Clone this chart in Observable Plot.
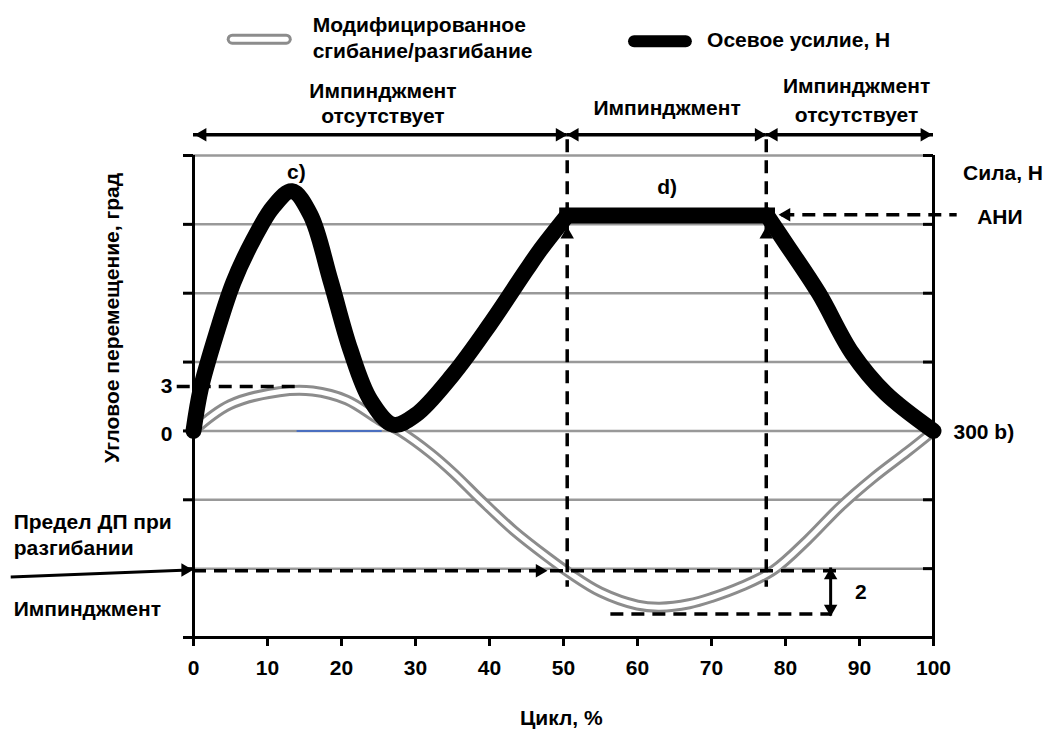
<!DOCTYPE html>
<html><head><meta charset="utf-8">
<script src="https://cdn.jsdelivr.net/npm/d3@7"></script>
<script src="https://cdn.jsdelivr.net/npm/@observablehq/plot@0.6"></script>
<style>html,body{margin:0;padding:0;background:#fff;} svg{display:block}</style>
</head><body><div id="chart"></div>
<script>
// ---- data ----
const cycleTicks = [0, 10, 20, 30, 40, 50, 60, 70, 80, 90, 100];
const axisLevels = [-3, -2, -1, 0, 1, 2, 3, 4];
const gridLevels = [-2, -1, 0, 1, 2, 3, 4];
// modified flexion/extension (grid units, 0 = neutral)
const flexCycle = [0, 4.9, 11.6, 16.1, 20.7, 25.1, 28, 32, 35.1, 38.8, 43.2, 47.8, 50.9, 55, 60, 63, 67, 70, 74, 78.4, 83, 87.4, 91.9, 96.5, 100];
const flexAngle = [0, 0.38, 0.57, 0.58, 0.45, 0.16, -0.01, -0.32, -0.61, -1.0, -1.44, -1.83, -2.07, -2.34, -2.53, -2.56, -2.51, -2.42, -2.26, -2.02, -1.58, -1.10, -0.68, -0.30, 0];
// axial force
const forceCycle = [0, 1.0, 3.2, 5.4, 8.1, 10.8, 13.3, 15.8, 18.5, 21.2, 23.9, 27, 30, 35, 40, 45, 47, 50.5, 77.5, 80, 84.5, 89, 93.5, 100];
const forceValue = [0, 0.62, 1.45, 2.16, 2.78, 3.26, 3.48, 3.14, 2.19, 1.18, 0.45, 0.09, 0.23, 0.81, 1.54, 2.34, 2.65, 3.13, 3.13, 2.73, 2.0, 1.13, 0.55, 0];
const plateauStart = 50.5, plateauEnd = 77.5;
const phaseBounds = [0, 50.5, 77.4, 100];
const angle3Level = 0.645;   // level of "3" degrees
const impLevel = -2.03;      // extension limit
const impLow = -2.66;        // bottom of the "2" band
const aniLevel = 3.14;

const flex = flexCycle.map((x, i) => ({x, y: flexAngle[i]}));
const force = forceCycle.map((x, i) => ({x, y: forceValue[i]}));
const forceRise = force.filter(d => d.x <= plateauStart);
const forcePlateau = force.filter(d => d.x >= plateauStart && d.x <= plateauEnd);
const forceFall = force.filter(d => d.x >= plateauEnd);
const phases = phaseBounds.slice(1).map((b, i) => ({x1: phaseBounds[i], x2: b}));

// ---- annotations ----
const topY = 4.3;
const dash = "13,8";
const headsRight = [{x: 50.5, y: topY}, {x: 77.4, y: topY}, {x: 99.8, y: topY}, {x: 47.8, y: impLevel}, {x: -0.1, y: -2.02}];
const headsLeft = [{x: 0.2, y: topY}, {x: 50.5, y: topY}, {x: 77.4, y: topY}, {x: 79.1, y: aniLevel}];
const headsUp = [{x: 50.5, y: 2.96}, {x: 77.4, y: 2.96}, {x: 86.1, y: -1.99}];
const headsDown = [{x: 86.1, y: -2.69}];

const textStart = [
  {t: "Модифицированное", x: 16.1, y: 5.89},
  {t: "сгибание/разгибание", x: 16.1, y: 5.51},
  {t: "Осевое усилие, Н", x: 69.4, y: 5.67},
  {t: "Сила, Н", x: 104.0, y: 3.74},
  {t: "АНИ", x: 105.9, y: 3.11},
  {t: "300 b)", x: 102.7, y: -0.02},
  {t: "Предел ДП при", x: -24.3, y: -1.32},
  {t: "разгибании", x: -24.3, y: -1.71},
  {t: "Импинджмент", x: -24.3, y: -2.59},
  {t: "2", x: 89.4, y: -2.34}
];
const textMiddle = [
  {t: "Импинджмент", x: 25.6, y: 4.94},
  {t: "отсутствует", x: 25.6, y: 4.57},
  {t: "Импинджмент", x: 64.0, y: 4.68},
  {t: "Импинджмент", x: 89.6, y: 5.0},
  {t: "отсутствует", x: 89.6, y: 4.59},
  {t: "c)", x: 13.9, y: 3.75},
  {t: "d)", x: 64.0, y: 3.54},
  {t: "Цикл, %", x: 49.7, y: -4.17}
];

const forceStyle = {x: "x", y: "y", stroke: "#000", strokeWidth: 16, strokeLinejoin: "round"};

const chart = Plot.plot({
  width: 1053, height: 740,
  marginLeft: 193, marginRight: 120, marginTop: 155, marginBottom: 103,
  x: {domain: [0, 100]},
  y: {domain: [-3, 4]},
  style: {fontFamily: "Liberation Sans, Arial, sans-serif", fontSize: "21px", fontWeight: "bold", background: "#fff", color: "#000", overflow: "visible"},
  marks: [
    // grid
    Plot.ruleY(gridLevels, {x1: 0, x2: 100, stroke: "#999", strokeWidth: 2.5}),
    Plot.ruleY([0], {x1: 14, x2: 25.5, stroke: "#4a6fc0", strokeWidth: 2}),
    // flexion curve (double line)
    Plot.line(flex, {x: "x", y: "y", stroke: "#8c8c8c", strokeWidth: 11, curve: "catmull-rom"}),
    Plot.line(flex, {x: "x", y: "y", stroke: "#fff", strokeWidth: 5, curve: "catmull-rom"}),
    // dashed guides
    Plot.ruleX([phaseBounds[1], phaseBounds[2]], {y1: 4.23, y2: -2.27, stroke: "#000", strokeWidth: 3.5, strokeDasharray: dash}),
    Plot.ruleY([angle3Level], {x1: -2.2, x2: 14.0, stroke: "#000", strokeWidth: 3.5, strokeDasharray: dash}),
    Plot.ruleY([impLevel], {x1: 0, x2: 87.4, stroke: "#000", strokeWidth: 3.5, strokeDasharray: dash}),
    Plot.ruleY([impLow], {x1: 56.4, x2: 86.1, stroke: "#000", strokeWidth: 3.5, strokeDasharray: dash}),
    Plot.ruleY([aniLevel], {x1: 79.5, x2: 103.2, stroke: "#000", strokeWidth: 3.5, strokeDasharray: dash}),
    Plot.ruleX([86.1], {y1: -1.99, y2: -2.69, stroke: "#000", strokeWidth: 3}),
    Plot.link([{x1: -24.7, y1: -2.12, x2: -0.6, y2: -2.02}], {x1: "x1", y1: "y1", x2: "x2", y2: "y2", stroke: "#000", strokeWidth: 3}),
    // phase arrows
    Plot.ruleY(phases, {y: topY, x1: "x1", x2: "x2", stroke: "#000", strokeWidth: 3.5}),
    // axial force curve
    Plot.line(forceRise, {...forceStyle, curve: "catmull-rom"}),
    Plot.line(forceFall, {...forceStyle, curve: "catmull-rom"}),
    Plot.line(forcePlateau, {...forceStyle, curve: "linear", strokeLinecap: "square"}),
    // arrow heads
    Plot.dot(headsRight, {x: "x", y: "y", symbol: "triangle", r: 5, rotate: 90, fill: "#000", stroke: "none", dx: -7.5}),
    Plot.dot(headsLeft, {x: "x", y: "y", symbol: "triangle", r: 5, rotate: -90, fill: "#000", stroke: "none", dx: 7.5}),
    Plot.dot(headsUp, {x: "x", y: "y", symbol: "triangle", r: 5, rotate: 0, fill: "#000", stroke: "none", dy: 7.5}),
    Plot.dot(headsDown, {x: "x", y: "y", symbol: "triangle", r: 5, rotate: 180, fill: "#000", stroke: "none", dy: -7.5}),
    // axes
    Plot.ruleX([0, 100], {y1: -3, y2: 4, stroke: "#000", strokeWidth: 3}),
    Plot.ruleY([-3], {x1: 0, x2: 100, stroke: "#000", strokeWidth: 3}),
    Plot.axisY(axisLevels, {anchor: "left", tickSize: 10, tickFormat: () => "", strokeWidth: 3, label: null}),
    Plot.axisY(axisLevels, {anchor: "left", x: 100, tickSize: 10, tickFormat: () => "", strokeWidth: 3, label: null}),
    Plot.axisX(cycleTicks, {anchor: "bottom", tickSize: 9, tickFormat: () => "", strokeWidth: 3, label: null}),
    Plot.text(cycleTicks, {x: d => d, y: -3, dy: 31, text: d => String(d), fill: "#000"}),
    Plot.text([{t: "3", y: angle3Level}, {t: "0", y: -0.05}], {x: 0, y: "y", text: "t", dx: -21, textAnchor: "end", fill: "#000"}),
    Plot.text(["Угловое перемещение, град"], {x: -10.95, y: 1.64, rotate: -90, fill: "#000"}),
    // legend
    Plot.ruleY([5.69], {x1: 5.3, x2: 12.6, stroke: "#8c8c8c", strokeWidth: 11, strokeLinecap: "round"}),
    Plot.ruleY([5.69], {x1: 5.3, x2: 12.6, stroke: "#fff", strokeWidth: 5, strokeLinecap: "round"}),
    Plot.ruleY([5.66], {x1: 59.6, x2: 66.6, stroke: "#000", strokeWidth: 12, strokeLinecap: "round"}),
    // texts
    Plot.text(textStart, {x: "x", y: "y", text: "t", textAnchor: "start", fill: "#000"}),
    Plot.text(textMiddle, {x: "x", y: "y", text: "t", textAnchor: "middle", fill: "#000"})
  ]
});
document.getElementById("chart").appendChild(chart);
</script>
</body></html>
